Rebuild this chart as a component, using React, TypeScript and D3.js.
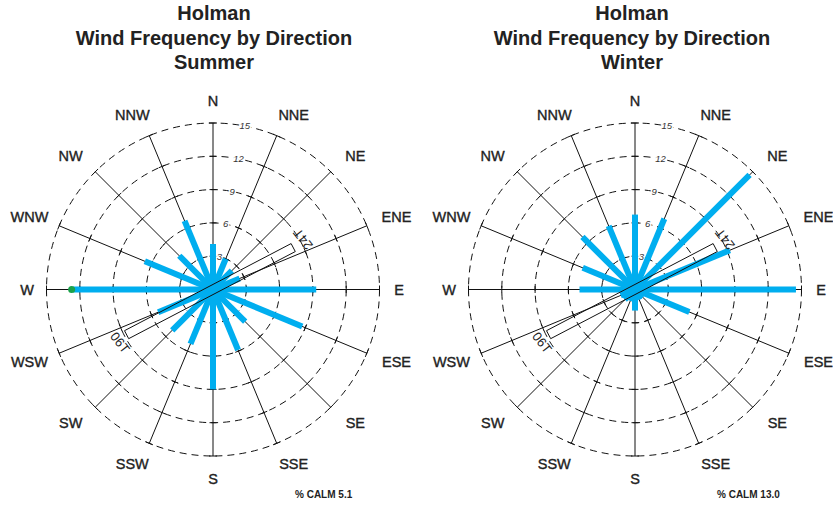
import React from "react";
import * as d3 from "d3";

const directions = ["N","NNE","NE","ENE","E","ESE","SE","SSE","S","SSW","SW","WSW","W","WNW","NW","NNW"];
const summerValues = [4.1, 3.0, 2.4, 2.6, 9.3, 8.7, 4.1, 5.9, 9.0, 5.3, 5.2, 5.35, 12.6, 6.65, 4.3, 6.7];
const winterValues = [6.75, 6.9, 14.6, 9.25, 14.5, 5.3, 1.0, 1.0, 1.9, 1.1, 1.3, 1.4, 5.0, 5.1, 6.7, 6.2];
const ringValues = [3, 6, 9, 12, 15];
const seasons = ["Summer", "Winter"];
const calmValues = ["5.1", "13.0"];
const highlightDir = ["W", null];
const runwayBearing = 62.4;
const runwayLabels = ["24T", "06T"];

const W = 833, H = 505;
const BLUE = "#00aeef";
const FONT = "Liberation Sans, Arial, sans-serif";

function Rose({ cx, cy, titleX, season, values, calm, highlight }: any) {
  const r = d3.scaleLinear().domain([0, 15]).range([0, 166.5]);
  const pt = (bearing: number, rad: number) => {
    const a = (bearing * Math.PI) / 180;
    return [cx + rad * Math.sin(a), cy - rad * Math.cos(a)];
  };
  const angle = d3.scaleLinear().domain([0, 16]).range([0, 360]);
  const maxR = r(15);

  const rb = (runwayBearing * Math.PI) / 180;
  const u = [Math.sin(rb), -Math.cos(rb)];
  const v = [Math.cos(rb), Math.sin(rb)];
  const at = (along: number, perp: number) => [cx + u[0] * along + v[0] * perp, cy + u[1] * along + v[1] * perp];
  const hw = 4.5;
  const box = [at(90.5, -hw), at(90.5, hw), at(-97.5, hw), at(-97.5, -hw)];
  const lab24 = at(103, -3);
  const lab06 = at(-107, 4);

  const labelPos = (i: number) => {
    const b = (angle(i) * Math.PI) / 180;
    const s = Math.sin(b), c = Math.cos(b);
    const cardinalEW = i === 4 || i === 12;
    const rx = cardinalEW ? 186 : 190;
    const shift = Math.abs(s) > 0.01 && !cardinalEW ? Math.sign(s) * 8 : 0;
    return [cx + rx * s + shift, cy - 189 * c];
  };

  return (
    <g>
      <text x={titleX} y={20} textAnchor="middle" fontFamily={FONT} fontWeight="bold" fontSize={20} fill="#222">Holman</text>
      <text x={titleX} y={44.5} textAnchor="middle" fontFamily={FONT} fontWeight="bold" fontSize={20} fill="#222">Wind Frequency by Direction</text>
      <text x={titleX} y={69} textAnchor="middle" fontFamily={FONT} fontWeight="bold" fontSize={20} fill="#222">{season}</text>

      {ringValues.map((rv) => (
        <circle key={rv} cx={cx} cy={cy} r={r(rv)} fill="none" stroke="#111" strokeWidth={1} strokeDasharray="7,5" />
      ))}

      {directions.map((d, i) => {
        const b = angle(i);
        const [x2, y2] = pt(b, maxR);
        const a = (b * Math.PI) / 180;
        const px = Math.cos(a), py = Math.sin(a);
        return (
          <g key={d}>
            <line x1={cx} y1={cy} x2={x2} y2={y2} stroke="#111" strokeWidth={1} />
            <line x1={x2 - px * 4} y1={y2 - py * 4} x2={x2 + px * 4} y2={y2 + py * 4} stroke="#111" strokeWidth={1} />
            {ringValues.slice(0, 4).map((rv) => {
              const [tx, ty] = pt(b, r(rv));
              return <line key={rv} x1={tx - px * 3.5} y1={ty - py * 3.5} x2={tx + px * 3.5} y2={ty + py * 3.5} stroke="#111" strokeWidth={1} />;
            })}
          </g>
        );
      })}

      {ringValues.map((rv) => {
        const [tx, ty] = pt(11, r(rv));
        return (
          <text key={rv} x={tx} y={ty} dy="0.35em" textAnchor="middle" fontFamily={FONT} fontStyle="italic" fontSize={9.5} fill="#333" stroke="#fff" strokeWidth={3} paintOrder="stroke">{rv}</text>
        );
      })}

      {values.map((val: number, i: number) => {
        const b = angle(i);
        const [x2, y2] = pt(b, r(val));
        return <line key={i} x1={cx} y1={cy} x2={x2} y2={y2} stroke={BLUE} strokeWidth={6} />;
      })}

      {highlight && (() => {
        const i = directions.indexOf(highlight);
        const [hx, hy] = pt(angle(i), r(values[i]) + 1.5);
        return <circle cx={hx} cy={hy} r={3.5} fill="#1aa14a" />;
      })()}

      <polygon points={box.map((p) => p.join(",")).join(" ")} fill="none" stroke="#111" strokeWidth={1} />
      <text x={lab24[0]} y={lab24[1]} dy="0.35em" textAnchor="middle" fontFamily={FONT} fontSize={13} fill="#222" transform={`rotate(-128 ${lab24[0]} ${lab24[1]})`}>{runwayLabels[0]}</text>
      <text x={lab06[0]} y={lab06[1]} dy="0.35em" textAnchor="middle" fontFamily={FONT} fontSize={13} fill="#222" transform={`rotate(52 ${lab06[0]} ${lab06[1]})`}>{runwayLabels[1]}</text>

      {directions.map((d, i) => {
        const [lx, ly] = labelPos(i);
        return (
          <text key={d} x={lx} y={ly} dy="0.36em" textAnchor="middle" fontFamily={FONT} fontSize={14.5} fill="#222" stroke="#222" strokeWidth={0.35}>{d}</text>
        );
      })}

      <text x={cx + 82} y={498} fontFamily={FONT} fontWeight="bold" fontSize={10} fill="#222">% CALM {calm}</text>
    </g>
  );
}

export default function App() {
  return (
    <svg width={W} height={H} style={{ position: "absolute", left: 0, top: 0, background: "#fff" }}>
      <rect width={W} height={H} fill="#fff" />
      <Rose cx={213} cy={289.5} titleX={214} season={seasons[0]} values={summerValues} calm={calmValues[0]} highlight={highlightDir[0]} />
      <Rose cx={635} cy={289.5} titleX={632} season={seasons[1]} values={winterValues} calm={calmValues[1]} highlight={highlightDir[1]} />
    </svg>
  );
}
